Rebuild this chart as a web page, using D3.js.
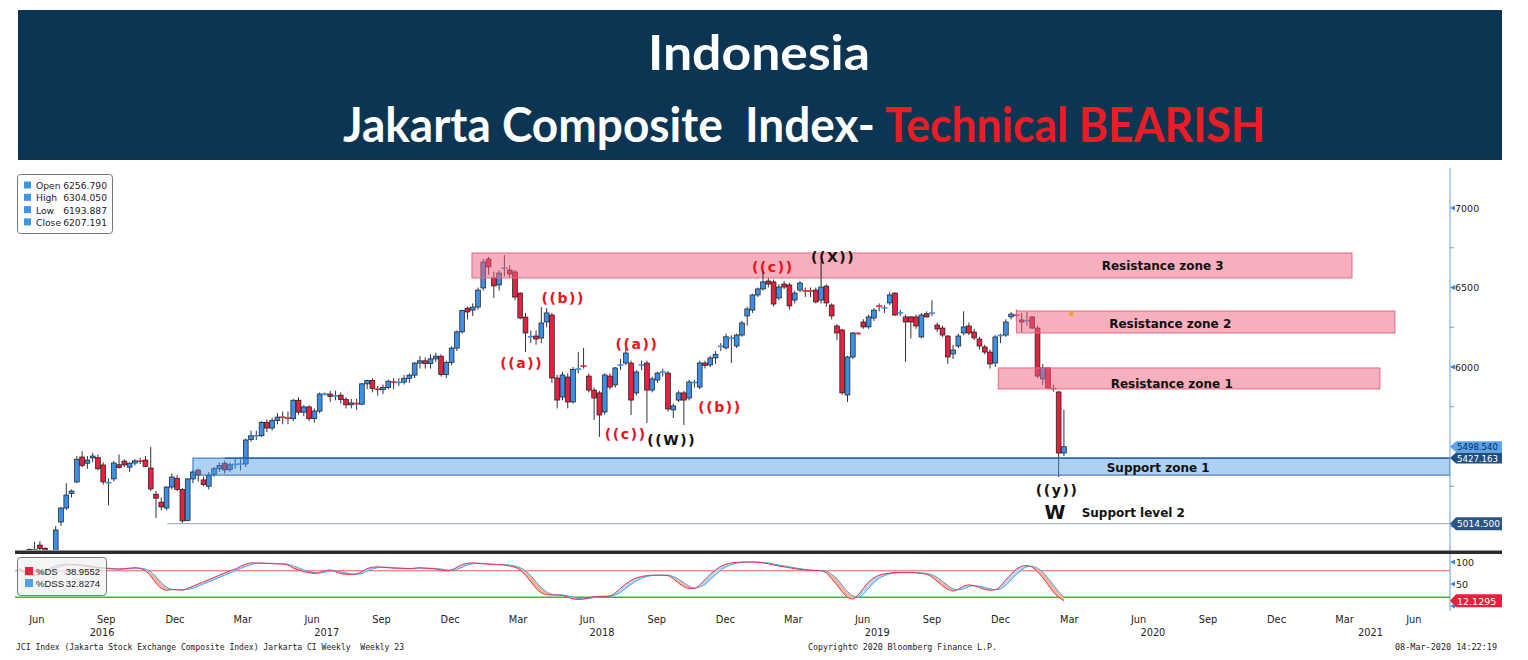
<!DOCTYPE html>
<html><head><meta charset="utf-8">
<script src="https://cdn.jsdelivr.net/npm/d3@7"></script>
<style>html,body{margin:0;padding:0;background:#fff;}svg{display:block}text{white-space:pre}</style>
</head><body>
<svg id="c" width="1528" height="660"></svg>
<script>
// ---------- DATA ----------
const firstBar = "2016-05-20";           // weekly bars, one slot per week
const opens = [
4710,4711,4814,4853,4880,4860,4835,4845,5025,5113,
5205,5277,5434,5395,5428,5430,5384,5270,5296,5385,
5408,5370,5396,5410,5415,5365,5200,5150,5113,5245,
5300,5230,5035,5296,5352,5290,5250,5325,5360,5395,
5355,5385,5388,5390,5545,5567,5568,5652,5616,5664,
5685,5683,5675,5791,5716,5749,5675,5723,5830,5830,
5814,5823,5795,5762,5774,5766,5894,5915,5864,5857,
5872,5911,5901,5905,5929,5949,6025,6039,6021,6051,
6068,5952,6028,6119,6221,6370,6358,6377,6497,6679,
6560,6516,6620,6610,6598,6465,6314,6189,6195,6182,
6283,6327,5931,5811,5937,5780,5984,6010,5943,5855,
5837,5717,5943,5887,6010,6025,6025,5837,6010,6025,
5855,5918,5966,5962,5730,5792,5837,5805,5900,5874,
6025,6013,6057,6128,6120,6180,6132,6201,6321,6358,
6453,6491,6541,6535,6434,6522,6516,6421,6484,6480,
6480,6484,6421,6509,6390,6258,6233,5824,6063,6212,
6283,6252,6308,6384,6371,6403,6465,6338,6315,6315,
6315,6189,6335,6338,6264,6245,6195,6082,6132,6214,
6258,6220,6176,6126,6094,6025,6195,6201,6315,6328,
6296,6290,6315,6245,5925,5994,5868,5843,5459];
const highs = [
4760,4820,4860,4900,4905,4865,4850,5000,5120,5270,
5230,5440,5470,5440,5460,5450,5400,5300,5410,5450,
5420,5400,5420,5430,5440,5497,5220,5180,5250,5330,
5320,5240,5300,5350,5360,5310,5340,5370,5400,5410,
5400,5420,5420,5550,5600,5600,5660,5670,5680,5710,
5720,5720,5800,5810,5760,5760,5740,5840,5840,5850,
5850,5840,5810,5800,5800,5900,5920,5930,5880,5890,
5920,5930,5930,5950,5960,6030,6070,6060,6080,6090,
6080,6040,6130,6230,6360,6380,6400,6500,6680,6692,
6600,6610,6704,6640,6610,6470,6340,6230,6230,6377,
6370,6340,5950,5970,5960,6000,6094,6120,5960,5870,
5850,5960,5960,6000,6050,6120,6040,5980,6040,6040,
5940,5970,5990,5975,5770,5850,5850,5920,5920,6040,
6040,6070,6100,6150,6210,6200,6210,6290,6380,6460,
6500,6560,6560,6550,6520,6540,6530,6480,6540,6500,
6500,6500,6503,6520,6400,6270,6240,6070,6220,6220,
6300,6330,6370,6400,6390,6470,6470,6360,6330,6320,
6330,6340,6350,6420,6280,6260,6200,6140,6210,6350,
6280,6240,6190,6140,6110,6200,6210,6300,6345,6360,
6340,6350,6320,6260,6019,6000,5890,5850,5730];
const lows = [
4690,4700,4790,4830,4840,4700,4800,4840,5000,5100,
5180,5270,5370,5360,5400,5350,5260,5130,5280,5360,
5370,5340,5380,5390,5370,5220,5050,5100,5100,5230,
5220,5020,5030,5270,5280,5250,5230,5310,5340,5330,
5340,5360,5350,5370,5530,5540,5560,5590,5600,5640,
5640,5640,5660,5700,5690,5660,5650,5710,5820,5780,
5790,5770,5740,5740,5730,5760,5860,5840,5820,5830,
5860,5860,5880,5890,5900,5930,5990,5990,5990,6030,
5940,5930,6010,6100,6210,6300,6320,6360,6480,6580,
6434,6480,6570,6560,6420,6300,6094,6150,6140,6150,
6250,5900,5740,5790,5740,5770,5960,5990,5840,5667,
5560,5700,5860,5870,5980,6010,5698,5820,5980,5648,
5840,5900,5940,5720,5679,5780,5635,5790,5870,5860,
5990,6000,6020,6100,6110,6025,6120,6190,6260,6340,
6440,6480,6500,6380,6420,6490,6360,6400,6470,6440,
6440,6400,6400,6380,6300,6170,5826,5780,6050,6205,
6240,6240,6290,6350,6340,6390,6320,6320,6032,6180,
6240,6180,6310,6320,6220,6190,6020,6050,6120,6200,
6200,6170,6110,6080,5990,6000,6150,6190,6300,6290,
6220,6260,6240,5930,5887,5860,5845,5308,5440];
const closes = [
4711,4814,4853,4845,4858,4835,4845,4975,5113,5195,
5220,5420,5380,5415,5440,5360,5277,5275,5396,5368,
5384,5395,5410,5405,5375,5233,5175,5120,5245,5308,
5230,5032,5296,5340,5321,5260,5320,5360,5380,5352,
5385,5390,5392,5541,5567,5568,5652,5616,5664,5685,
5683,5675,5791,5716,5749,5675,5723,5830,5830,5814,
5823,5795,5762,5774,5766,5894,5915,5864,5857,5872,
5911,5901,5905,5929,5949,6025,6039,6021,6051,6068,
5952,6028,6119,6221,6356,6346,6377,6484,6660,6629,
6510,6591,6623,6585,6440,6308,6214,6192,6176,6277,
6340,5931,5792,5950,5780,5985,5990,6002,5855,5805,
5698,5950,5874,5994,6015,6088,5792,5969,6015,5855,
5925,5962,5970,5736,5755,5837,5792,5906,5905,6025,
6010,6057,6080,6132,6190,6182,6201,6277,6365,6453,
6491,6535,6522,6396,6503,6503,6384,6465,6528,6476,
6476,6409,6503,6403,6321,6214,5837,6063,6214,6209,
6252,6315,6358,6382,6373,6453,6327,6342,6283,6283,
6258,6327,6315,6340,6239,6201,6063,6107,6195,6252,
6214,6183,6132,6094,6019,6189,6201,6283,6333,6323,
6283,6292,6245,5943,5994,5868,5860,5459,5498.54];
const stochDS = [
83,76,70,70,74,80,86,91,94,95, 94,93,92,90,88,87,86,85,84,84,
85,86,87,85,80,68,52,40,36,37, 37,36,40,45,50,55,60,65,70,75,
80,84,90,95,98,98,97,97,96,96, 95,93,86,82,78,76,74,76,80,82,
78,74,72,72,73,78,85,88,89,88, 87,86,86,85,85,86,87,86,85,84,
82,80,82,88,94,97,98,97,96,95, 94,94,93,91,88,82,70,55,40,30,
26,25,25,24,20,16,15,16,19,21, 22,22,23,30,40,50,58,64,67,69,
70,70,70,69,62,52,44,40,40,48, 60,72,82,90,95,98,99,100,100,100,
99,98,96,93,91,89,87,85,83,82, 81,81,80,75,62,48,32,20,16,25,
40,55,64,70,73,75,76,76,76,76, 75,74,72,66,56,46,38,34,38,45,
48,46,42,38,36,37,45,60,72,84, 90,92,88,78,64,48,32,20,12.13];
const stochDSS = [
85,80,76,72,71,75,80,86,90,93, 94,94,93,92,90,88,87,86,85,84,
84,85,86,86,84,78,67,53,43,38, 37,37,38,40,45,50,55,60,65,70,
75,80,85,90,94,97,98,97,97,96, 96,95,91,87,82,79,76,75,77,79,
80,78,75,73,72,74,79,84,87,88, 88,87,86,86,85,85,86,86,86,85,
84,82,81,83,88,93,96,97,97,96, 95,94,94,93,91,87,80,69,55,42,
32,27,25,25,23,20,17,16,17,19, 21,22,22,25,31,40,49,57,63,67,
69,70,70,70,67,61,53,45,41,43, 49,60,71,81,89,94,97,99,100,100,
100,99,98,96,93,91,89,87,85,83, 82,81,81,79,72,62,47,33,23,20,
27,40,53,63,69,73,75,76,76,76, 76,75,74,71,65,56,47,39,37,39,
44,46,45,42,39,37,39,47,59,72, 82,89,90,86,77,63,48,33,21];
const priceMajorTicks = [5000,5500,6000,6500,7000];
const priceMinorTicks = [5250,5750,6250,6750];
const stochTicks = [0,50,100];
const stochLevels = {over:80, under:20};
const legendRows = [["Open","6256.790"],["High","6304.050"],["Low","6193.887"],["Close","6207.191"]];
const stochLegend = [["%DS","38.9552"],["%DSS","32.8274"]];
const lastClose = 5498.540, supportTop = 5427.163, supportLevel2 = 5014.500, lastStoch = 12.1295;
const zones = [
  {name:"Resistance zone 3", from:"2018-01-11", to:"2021-03-23", lo:6560, hi:6717, kind:"res", labelAt:"2020-07-15", labelV:6638},
  {name:"Resistance zone 2", from:"2020-01-03", to:"2021-05-19", lo:6214, hi:6352, kind:"res", labelAt:"2020-07-25", labelV:6270},
  {name:"Resistance zone 1", from:"2019-12-10", to:"2021-04-29", lo:5862, hi:5994, kind:"res", labelAt:"2020-07-27", labelV:5895},
  {name:"Support zone 1",   from:"2017-01-06", to:"2021-07-31", lo:5320, hi:5427.163, kind:"sup", labelAt:"2020-07-09", labelV:5365}
];
const waveLabels = [
  {t:"((b))", d:"2018-05-12", v:6434, c:"red"},
  {t:"((a))", d:"2018-03-18", v:6025, c:"red"},
  {t:"((a))", d:"2018-08-18", v:6145, c:"red"},
  {t:"((c))", d:"2018-08-03", v:5579, c:"red"},
  {t:"((W))", d:"2018-10-03", v:5541, c:"black"},
  {t:"((b))", d:"2018-12-06", v:5748, c:"red"},
  {t:"((c))", d:"2019-02-14", v:6629, c:"red"},
  {t:"((X))", d:"2019-05-05", v:6692, c:"black"},
  {t:"((y))", d:"2020-02-26", v:5227, c:"black"}
];

// ---------- SETUP ----------
const svg = d3.select("#c");
const parse = d3.timeParse("%Y-%m-%d");
const start = parse(firstBar);
const bars = closes.map((c,i)=>({date:d3.timeDay.offset(start,7*i), o:opens[i], h:highs[i], l:lows[i], c}));

const L=15, R=1450, T=168, B=550;
const x = d3.scaleTime().domain([parse("2016-05-15"), parse("2021-07-31")]).range([L,R]);
const y = d3.scaleLinear().domain([7000,5000]).range([208,526]);
const ys = d3.scaleLinear().domain([0,100]).range([606,562]);

// ---------- TITLE BANNER ----------
svg.append("rect").attr("x",18).attr("y",10).attr("width",1484).attr("height",150).attr("fill","#0b3552");
svg.append("text").attr("x",648).attr("y",70).attr("textLength",222).attr("lengthAdjust","spacingAndGlyphs")
  .attr("font-family","Lato").attr("font-weight","bold").attr("font-size",48).attr("fill","#fff").text("Indonesia");
svg.append("text").attr("x",343).attr("y",142).attr("textLength",532).attr("lengthAdjust","spacingAndGlyphs")
  .attr("font-family","Lato").attr("font-weight","bold").attr("font-size",48).attr("fill","#fff").text("Jakarta Composite  Index-");
svg.append("text").attr("x",885).attr("y",142).attr("textLength",380).attr("lengthAdjust","spacingAndGlyphs")
  .attr("font-family","Lato").attr("font-weight","bold").attr("font-size",48).attr("fill","#ec1c24").text("Technical BEARISH");

// ---------- MAIN PANEL ----------
svg.append("clipPath").attr("id","mainClip").append("rect").attr("x",L).attr("y",T).attr("width",R-L).attr("height",B-T);
const main = svg.append("g").attr("clip-path","url(#mainClip)");

// support level 2 line
main.append("line").attr("x1",x(parse("2016-12-03"))).attr("x2",R).attr("y1",y(supportLevel2)).attr("y2",y(supportLevel2))
  .attr("stroke","#8aa6c4").attr("stroke-width",1);

// candles
const UP="#3b8fe6", DN="#e4213f";
const cg = main.append("g");
bars.forEach(b=>{
  const cx = x(b.date);
  cg.append("line").attr("x1",cx).attr("x2",cx).attr("y1",y(b.h)).attr("y2",y(b.l)).attr("stroke","#333").attr("stroke-width",1);
  const top=y(Math.max(b.o,b.c)), bot=y(Math.min(b.o,b.c));
  const col = b.c>=b.o?UP:DN;
  if (bot-top<1.6){
    cg.append("line").attr("x1",cx-3).attr("x2",cx+3).attr("y1",(top+bot)/2).attr("y2",(top+bot)/2).attr("stroke",col).attr("stroke-width",1.6);
  } else {
    cg.append("rect").attr("x",cx-2.4).attr("y",top).attr("width",4.8).attr("height",bot-top)
      .attr("fill",col).attr("stroke","#1b1b1b").attr("stroke-width",0.7);
  }
});

// zones (drawn over candles, translucent)
zones.forEach(z=>{
  const x0=x(parse(z.from)), x1=Math.min(R,x(parse(z.to)));
  main.append("rect").attr("x",x0).attr("y",y(z.hi)).attr("width",x1-x0).attr("height",y(z.lo)-y(z.hi))
    .attr("fill", z.kind==="res"?"#f0607e":"#4a9ae8").attr("fill-opacity", z.kind==="res"?0.5:0.45)
    .attr("stroke", z.kind==="res"?"#e46a84":"#2e6db3").attr("stroke-width",1);
});
// support zone top line (5427.163)
main.append("line").attr("x1",x(parse("2017-02-17"))).attr("x2",R).attr("y1",y(supportTop)).attr("y2",y(supportTop))
  .attr("stroke","#1f5a9c").attr("stroke-width",1.2);
// small orange marker
main.append("rect").attr("x",x(parse("2020-03-13"))).attr("y",y(6345)).attr("width",4).attr("height",4).attr("fill","#f0a030");

// zone labels
const zoneFont = {family:"DejaVu Sans", size:12};
zones.forEach(z=>{
  svg.append("text").attr("x",x(parse(z.labelAt))).attr("y",y(z.labelV)).attr("text-anchor","middle").attr("dominant-baseline","central")
    .attr("font-family",zoneFont.family).attr("font-weight","bold").attr("font-size",zoneFont.size).attr("fill","#111").text(z.name);
});
svg.append("text").attr("x",x(parse("2020-06-06"))).attr("y",y(5082)).attr("text-anchor","middle").attr("dominant-baseline","central")
  .attr("font-family",zoneFont.family).attr("font-weight","bold").attr("font-size",zoneFont.size).attr("fill","#111").text("Support level 2");

// wave labels
waveLabels.forEach(w=>{
  svg.append("text").attr("x",x(parse(w.d))).attr("y",y(w.v)).attr("text-anchor","middle").attr("dominant-baseline","central")
    .attr("font-family","DejaVu Sans").attr("font-weight","bold").attr("font-size",14).attr("letter-spacing",1.6)
    .attr("fill", w.c==="red"?"#e8141c":"#111").text(w.t);
});
svg.append("text").attr("x",x(parse("2020-02-23"))).attr("y",y(5088)).attr("text-anchor","middle").attr("dominant-baseline","central")
  .attr("font-family","DejaVu Sans").attr("font-weight","bold").attr("font-size",19).attr("fill","#111").text("W");
// pointer lines
[[152,6665],[141,6600]].forEach(([i,v])=>{
  svg.append("line").attr("x1",x(bars[i].date)).attr("x2",x(bars[i].date)).attr("y1",y(v)).attr("y2",y(bars[i].h))
    .attr("stroke","#222").attr("stroke-width",1);
});

// legend (top-left)
const lg = svg.append("g");
lg.append("rect").attr("x",17.5).attr("y",174.5).attr("width",95).attr("height",59).attr("rx",3).attr("fill","#fff").attr("stroke","#777");
legendRows.forEach((r,i)=>{
  const yy=186+i*12.3;
  lg.append("rect").attr("x",24).attr("y",yy-4.5).attr("width",7).attr("height",7).attr("fill","#3d95ea");
  lg.append("text").attr("x",36).attr("y",yy+3).attr("font-family","DejaVu Sans").attr("font-size",9.2).attr("fill","#222").text(r[0]);
  lg.append("text").attr("x",107).attr("y",yy+3).attr("text-anchor","end").attr("font-family","DejaVu Sans").attr("font-size",9.2).attr("fill","#222").text(r[1]);
});

// ---------- RIGHT AXIS ----------
svg.append("line").attr("x1",R).attr("x2",R).attr("y1",T).attr("y2",611).attr("stroke","#6a9fd8").attr("stroke-width",1);
const hiddenByTags = [5000,5500];
priceMajorTicks.forEach(v=>{
  svg.append("path").attr("d",`M${R},${y(v)} l5,-2.5 l0,5 z`).attr("fill","#3d85d8");
  if (!hiddenByTags.includes(v))
    svg.append("text").attr("x",R+5).attr("y",y(v)).attr("dominant-baseline","central").attr("font-family","DejaVu Sans").attr("font-size",9.5).attr("fill","#222").text(v);
});
priceMinorTicks.forEach(v=>{
  svg.append("line").attr("x1",R).attr("x2",R+4).attr("y1",y(v)).attr("y2",y(v)).attr("stroke","#6a9fd8");
});
function tag(v, scale, fill, txtFill, label, h, fs){
  const cy=scale(v), hh=(h||13)/2;
  svg.append("path").attr("d",`M${R},${cy} L${R+6},${cy-hh} L1502,${cy-hh} L1502,${cy+hh} L${R+6},${cy+hh} Z`).attr("fill",fill);
  svg.append("text").attr("x",R+7).attr("y",cy+0.5).attr("dominant-baseline","central").attr("font-family","DejaVu Sans").attr("font-size",fs||9).attr("fill",txtFill).text(label);
}
tag(lastClose, y, "#58a6ee", "#0d2a4a", d3.format(".3f")(lastClose), 11, 8.6);
tag(supportTop, y, "#1f4e82", "#fff", d3.format(".3f")(supportTop), 11, 8.6);
tag(supportLevel2, y, "#2a5687", "#fff", d3.format(".3f")(supportLevel2), 13, 9);

// ---------- SEPARATOR ----------
svg.append("rect").attr("x",L).attr("y",550.5).attr("width",1502-L).attr("height",3.5).attr("fill","#2d2d2d");

// ---------- STOCHASTIC PANEL ----------
svg.append("line").attr("x1",L).attr("x2",R).attr("y1",ys(stochLevels.over)).attr("y2",ys(stochLevels.over)).attr("stroke","#ef5b5b").attr("stroke-width",1);
svg.append("line").attr("x1",L).attr("x2",R).attr("y1",ys(stochLevels.under)).attr("y2",ys(stochLevels.under)).attr("stroke","#3cb83c").attr("stroke-width",1.5);
const sg = svg.append("g");
for (let i=0;i<stochDS.length-1;i++){
  const x0=x(bars[i].date), x1=x(bars[i+1].date);
  const up = (stochDS[i]+stochDS[i+1]) >= (stochDSS[i]+stochDSS[i+1]);
  sg.append("path").attr("d",`M${x0},${ys(stochDS[i])} L${x1},${ys(stochDS[i+1])} L${x1},${ys(stochDSS[i+1])} L${x0},${ys(stochDSS[i])} Z`)
    .attr("fill", up?"#b9d3f0":"#f6b49c").attr("stroke","none");
}
const sline = d3.line().x((d,i)=>x(bars[i].date)).y(d=>ys(d)).curve(d3.curveMonotoneX);
sg.append("path").attr("d",sline(stochDSS)).attr("fill","none").attr("stroke","#4aa3ec").attr("stroke-width",1);
sg.append("path").attr("d",sline(stochDS)).attr("fill","none").attr("stroke","#e8304a").attr("stroke-width",1);
stochTicks.forEach(v=>{
  svg.append("path").attr("d",`M${R},${ys(v)} l5,-2.5 l0,5 z`).attr("fill","#3d85d8");
  if (v>0) svg.append("text").attr("x",R+6).attr("y",ys(v)).attr("dominant-baseline","central").attr("font-family","DejaVu Sans").attr("font-size",9.5).attr("fill","#222").text(v);
});
tag(lastStoch, ys, "#e8203c", "#fff", d3.format(".4f")(lastStoch), 13, 9.5);

// stoch legend
const sl = svg.append("g");
sl.append("rect").attr("x",17.5).attr("y",557.5).attr("width",89).attr("height",38).attr("rx",3).attr("fill","#f2f2f2").attr("fill-opacity",0.75).attr("stroke","#777");
stochLegend.forEach((r,i)=>{
  const yy=571+i*12;
  sl.append("rect").attr("x",25).attr("y",yy-4).attr("width",8).attr("height",8).attr("fill", i===0?"#e8203c":"#4aa3ec");
  sl.append("text").attr("x",36).attr("y",yy+3.5).attr("font-family","Liberation Sans").attr("font-size",9.5).attr("fill","#222").text(r[0]);
  sl.append("text").attr("x",100).attr("y",yy+3.5).attr("text-anchor","end").attr("font-family","Liberation Sans").attr("font-size",9.5).attr("fill","#222").text(r[1]);
});

// ---------- BOTTOM AXIS ----------
const months = d3.timeMonth.range(parse("2016-06-01"), parse("2021-07-01"), 3);
months.forEach(m=>{
  svg.append("text").attr("x",x(d3.timeDay.offset(m,12))).attr("y",623).attr("text-anchor","middle")
    .attr("font-family","DejaVu Sans").attr("font-size",9.8).attr("fill","#222").text(d3.timeFormat("%b")(m));
});
const [d0,d1]=x.domain();
d3.range(2016,2022).forEach(yr=>{
  const a=new Date(Math.max(+new Date(yr,0,1),+d0)), b=new Date(Math.min(+new Date(yr+1,0,1),+d1));
  svg.append("text").attr("x",(x(a)+x(b))/2).attr("y",636).attr("text-anchor","middle")
    .attr("font-family","DejaVu Sans").attr("font-size",9.8).attr("fill","#222").text(yr);
});

// ---------- FOOTER ----------
svg.append("text").attr("x",16).attr("y",650).attr("textLength",388).attr("lengthAdjust","spacingAndGlyphs")
  .attr("font-family","DejaVu Sans Mono").attr("font-size",8.5).attr("fill","#222")
  .text("JCI Index (Jakarta Stock Exchange Composite Index) Jarkarta CI Weekly  Weekly 23");
svg.append("text").attr("x",808).attr("y",650).attr("textLength",189).attr("lengthAdjust","spacingAndGlyphs")
  .attr("font-family","DejaVu Sans Mono").attr("font-size",8.5).attr("fill","#222").text("Copyright\u00A9 2020 Bloomberg Finance L.P.");
svg.append("text").attr("x",1395).attr("y",650).attr("textLength",102).attr("lengthAdjust","spacingAndGlyphs")
  .attr("font-family","DejaVu Sans Mono").attr("font-size",8.5).attr("fill","#222").text("08-Mar-2020 14:22:19");
</script>
</body></html>
